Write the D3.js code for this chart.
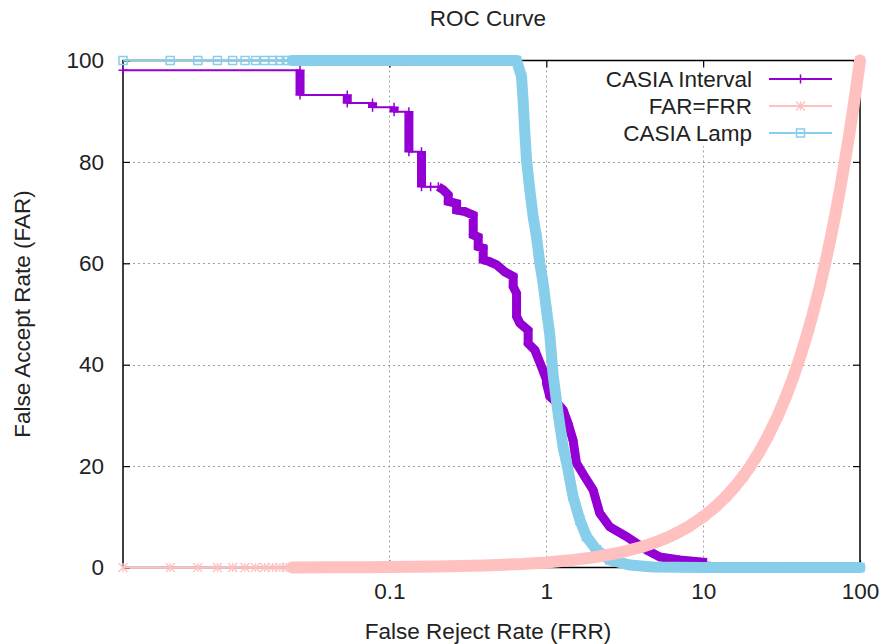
<!DOCTYPE html>
<html>
<head>
<meta charset="utf-8">
<script src="https://cdn.jsdelivr.net/npm/d3@7"></script>
<style>
  body { margin: 0; background: #fff; }
  svg { font-family: "Liberation Sans", Arial, sans-serif; }
</style>
</head>
<body>
<div id="rocchart"></div>
<script>
// CASIA Interval (FRR %, FAR %)
const intervalFRR = [0.002, 0.0269, 0.0269, 0.0538, 0.0538, 0.078, 0.078, 0.107, 0.107, 0.133, 0.133, 0.160, 0.160,
  0.183, 0.205, 0.220, 0.237, 0.237, 0.268, 0.268, 0.303, 0.342, 0.342, 0.368, 0.368, 0.396, 0.396, 0.436, 0.482,
  0.545, 0.615, 0.615, 0.646, 0.646, 0.678, 0.766, 0.766, 0.845, 0.932, 1.003, 1.003, 1.053, 1.166, 1.279, 1.377,
  1.481, 1.557, 1.759, 1.987, 2.192, 2.538, 3.243, 4.347, 5.284, 7.08, 10.5];
const intervalFAR = [98.1, 98.1, 93.2, 93.2, 91.6, 91.6, 90.8, 90.8, 89.9, 89.9, 82.0, 82.0, 75.1,
  75.1, 75.1, 74.5, 73.5, 72.2, 71.8, 70.5, 70.2, 69.5, 65.6, 65.2, 63.3, 63.0, 60.7, 60.3, 59.7,
  58.3, 57.4, 55.4, 54.1, 49.5, 48.2, 46.8, 44.2, 42.9, 39.6, 37.0, 36.3, 33.7, 32.5, 31.1, 28.4,
  25.1, 20.6, 17.9, 15.3, 10.7, 8.0, 6.1, 3.5, 2.1, 1.5, 1.0];

// CASIA Lamp
const lampFRR = [0.002, 0.004, 0.006, 0.008, 0.010, 0.012, 0.014, 0.016, 0.018, 0.020, 0.022, 0.024,
  0.04, 0.07, 0.12, 0.2, 0.3, 0.45, 0.646, 0.695, 0.711, 0.730, 0.748, 0.785, 0.824, 0.866, 0.909, 0.954,
  1.003, 1.053, 1.105, 1.189, 1.279, 1.377, 1.481, 1.634, 1.803, 2.088, 2.538, 3.402, 4.79, 10, 30, 100];
const lampFAR = [100, 100, 100, 100, 100, 100, 100, 100, 100, 100, 100, 100,
  100, 100, 100, 100, 100, 100, 100, 96.8, 92.2, 85.6, 80.4, 74.5, 69.2, 65.2, 60.0, 56.1,
  50.8, 45.8, 38.0, 30.4, 23.8, 19.2, 14.0, 9.4, 6.1, 3.5, 1.5, 0.5, 0.1, 0, 0, 0];

// FAR=FRR line: the same value on both axes
const eqRate = [0.002, 0.004, 0.006, 0.008, 0.010, 0.012, 0.014, 0.016, 0.018, 0.020, 0.022, 0.024,
  0.04, 0.07, 0.1, 0.2, 0.4, 0.7, 1, 1.5, 2, 3, 4, 5, 6, 7, 8, 10, 12, 14, 16, 18, 20, 23, 26, 30,
  34, 38, 42, 46, 50, 55, 60, 65, 70, 75, 80, 85, 90, 95, 100];

const xTicks = [0.1, 1, 10, 100];
const yTicks = [0, 20, 40, 60, 80, 100];
const legendNames = ['CASIA Interval', 'FAR=FRR', 'CASIA Lamp'];

const W = 881, H = 644;
const plotL = 123, plotR = 860, plotT = 60.5, plotB = 567.5;
const font = 22.5;

const x = d3.scaleLog().domain([0.002, 100]).range([plotL, plotR]);
const y = d3.scaleLinear().domain([0, 100]).range([plotB, plotT]);

const svg = d3.select('#rocchart').append('svg')
  .attr('width', W)
  .attr('height', H);

// grid
const grid = svg.append('g')
  .attr('stroke', '#a0a0a0')
  .attr('stroke-width', 1)
  .attr('stroke-dasharray', '2,3');
grid.selectAll('.gx')
  .data(xTicks.filter(d => d < 100))
  .enter().append('line')
  .attr('x1', d => Math.round(x(d)) + 0.5).attr('x2', d => Math.round(x(d)) + 0.5)
  .attr('y1', plotT).attr('y2', plotB);
grid.selectAll('.gy')
  .data(yTicks.filter(d => d > 0 && d < 100))
  .enter().append('line')
  .attr('y1', d => Math.round(y(d)) + 0.5).attr('y2', d => Math.round(y(d)) + 0.5)
  .attr('x1', plotL).attr('x2', plotR);

// opaque key box
svg.append('rect')
  .attr('x', 598).attr('y', 62)
  .attr('width', 238).attr('height', 84)
  .attr('fill', '#fff');

// axes (ticks point inward, mirrored on top/right)
function styleAxis(g) {
  g.select('.domain').remove();
  g.selectAll('.tick line').attr('stroke', '#000').attr('stroke-width', 1.2);
  g.selectAll('.tick text')
    .attr('fill', '#222')
    .style('font-size', font + 'px')
    .style('font-family', '"Liberation Sans", Arial, sans-serif');
}

svg.append('g')
  .attr('transform', `translate(0,${plotB})`)
  .call(d3.axisBottom(x).tickValues(xTicks).tickFormat(d3.format('~g'))
    .tickSizeInner(-7).tickSizeOuter(0).tickPadding(16))
  .call(styleAxis);
svg.append('g')
  .attr('transform', `translate(0,${plotT})`)
  .call(d3.axisTop(x).tickValues(xTicks).tickFormat('').tickSizeInner(-7).tickSizeOuter(0))
  .call(styleAxis);
svg.append('g')
  .attr('transform', `translate(${plotL},0)`)
  .call(d3.axisLeft(y).tickValues(yTicks).tickSizeInner(-7).tickSizeOuter(0).tickPadding(19))
  .call(styleAxis);
svg.append('g')
  .attr('transform', `translate(${plotR},0)`)
  .call(d3.axisRight(y).tickValues(yTicks).tickFormat('').tickSizeInner(-7).tickSizeOuter(0))
  .call(styleAxis);

// border
svg.append('rect')
  .attr('x', plotL).attr('y', plotT)
  .attr('width', plotR - plotL).attr('height', plotB - plotT)
  .attr('fill', 'none')
  .attr('stroke', '#000')
  .attr('stroke-width', 1.5);

// markers
function marker(g, type, color, cx, cy) {
  const s = 4.5;
  if (type === 'plus') {
    g.append('path').attr('d', `M${cx - s},${cy}H${cx + s}M${cx},${cy - s}V${cy + s}`)
      .attr('stroke', color).attr('stroke-width', 1.5).attr('fill', 'none');
  } else if (type === 'cross') {
    g.append('path').attr('d', `M${cx - s},${cy - s}L${cx + s},${cy + s}M${cx - s},${cy + s}L${cx + s},${cy - s}M${cx},${cy - s}V${cy + s}`)
      .attr('stroke', color).attr('stroke-width', 1.3).attr('fill', 'none');
  } else {
    g.append('rect').attr('x', cx - 4).attr('y', cy - 4).attr('width', 8).attr('height', 8)
      .attr('stroke', color).attr('stroke-width', 1.5).attr('fill', 'none');
  }
}

// a series: thin line + markers, and a thick band where the points are dense
function drawSeries(xs, ys, color, opt) {
  const g = svg.append('g');
  const pts = xs.map((v, i) => [x(v), y(ys[i])]);

  g.append('path')
    .attr('d', d3.line()(pts))
    .attr('fill', 'none')
    .attr('stroke', color)
    .attr('stroke-width', 2);

  const runs = [];
  let cur = null;
  for (let i = 0; i < pts.length - 1; i++) {
    const thick = xs[i] >= opt.denseFrom || xs[i] === xs[i + 1];
    if (thick) {
      if (!cur) { cur = [pts[i]]; runs.push(cur); }
      cur.push(pts[i + 1]);
    } else {
      cur = null;
    }
  }
  g.selectAll('.band')
    .data(runs)
    .enter().append('path')
    .attr('d', d => d3.line()(d))
    .attr('fill', 'none')
    .attr('stroke', color)
    .attr('stroke-width', opt.band)
    .attr('stroke-linejoin', opt.join)
    .attr('stroke-linecap', opt.cap);

  pts.forEach(p => marker(g, opt.marker, color, p[0], p[1]));
}

const purple = '#9400d3', pink = '#ffc0c0', blue = '#87ceeb';

drawSeries(intervalFRR, intervalFAR, purple, { denseFrom: 0.2, band: 9, marker: 'plus', cap: 'butt', join: 'miter' });
drawSeries(lampFRR, lampFAR, blue, { denseFrom: 0.024, band: 11, marker: 'square', cap: 'round', join: 'round' });
drawSeries(eqRate, eqRate, pink, { denseFrom: 0.024, band: 12, marker: 'cross', cap: 'round', join: 'round' });

// legend
const legendColors = [purple, pink, blue];
const legendMarks = ['plus', 'cross', 'square'];
legendNames.forEach((name, i) => {
  const ly = 79 + i * 27;
  svg.append('text')
    .attr('x', 752).attr('y', ly)
    .attr('dy', '0.35em')
    .attr('text-anchor', 'end')
    .attr('fill', '#222')
    .style('font-size', font + 'px')
    .text(name);
  svg.append('line')
    .attr('x1', 769).attr('x2', 832)
    .attr('y1', ly).attr('y2', ly)
    .attr('stroke', legendColors[i])
    .attr('stroke-width', 2);
  marker(svg, legendMarks[i], legendColors[i], 800.5, ly);
});

// titles
svg.append('text')
  .attr('x', 488).attr('y', 26)
  .attr('text-anchor', 'middle')
  .attr('fill', '#222')
  .style('font-size', font + 'px')
  .text('ROC Curve');
svg.append('text')
  .attr('x', 488).attr('y', 639)
  .attr('text-anchor', 'middle')
  .attr('fill', '#222')
  .style('font-size', font + 'px')
  .text('False Reject Rate (FRR)');
svg.append('text')
  .attr('transform', `translate(30,${(plotT + plotB) / 2}) rotate(-90)`)
  .attr('text-anchor', 'middle')
  .attr('fill', '#222')
  .style('font-size', font + 'px')
  .text('False Accept Rate (FAR)');
</script>
</body>
</html>
